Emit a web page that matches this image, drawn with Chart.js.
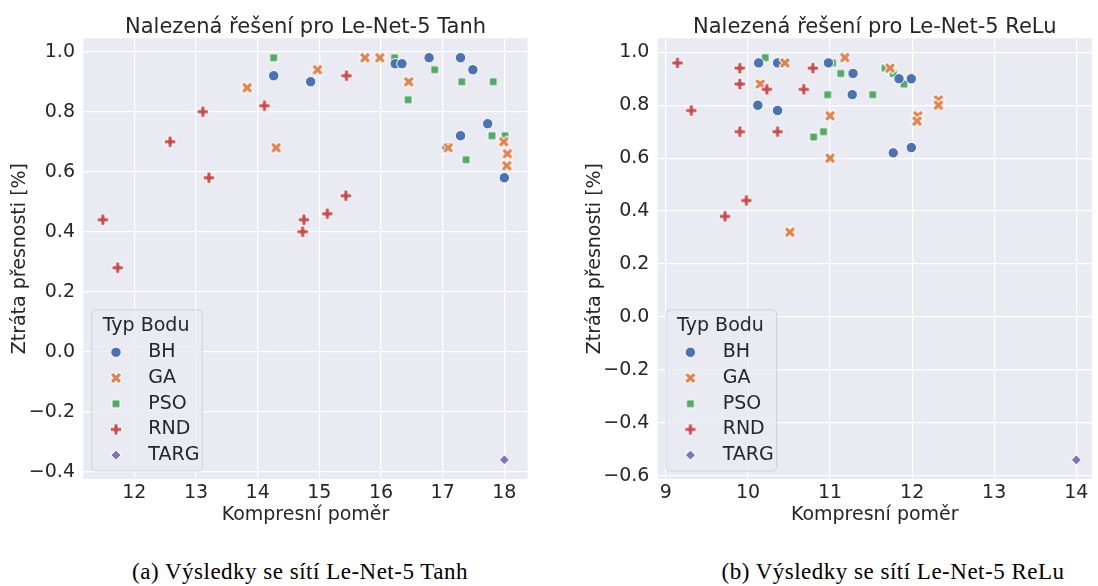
<!DOCTYPE html>
<html><head><meta charset="utf-8">
<script src="https://cdn.jsdelivr.net/npm/chart.js@4/dist/chart.umd.min.js"></script>
<style>
html,body{margin:0;padding:0;background:#fff;}
#wrap{position:relative;width:1098px;height:586px;overflow:hidden;}
canvas{position:absolute;top:0;}
.cap{position:absolute;top:558px;font-family:"Liberation Serif",serif;font-size:23px;letter-spacing:0.5px;color:#000;white-space:nowrap;transform:translateX(-50%);line-height:28px;}
</style></head>
<body><div id="wrap">
<canvas id="c1" width="560" height="540" style="left:0px"></canvas>
<canvas id="c2" width="523" height="540" style="left:575px"></canvas>
<div class="cap" style="left:300px">(a) Výsledky se sítí Le-Net-5 Tanh</div>
<div class="cap" style="left:893px">(b) Výsledky se sítí Le-Net-5 ReLu</div>
</div>
<script>
// ---------- data ----------
const seriesNames = ['BH', 'GA', 'PSO', 'RND', 'TARG'];

const tanhBH  = [[14.26,0.92],[14.86,0.90],[16.23,0.96],[16.34,0.96],[16.78,0.98],[17.29,0.98],[17.49,0.94],[17.73,0.76],[17.29,0.72],[17.07,0.68],[18.00,0.58]];
const tanhGA  = [[13.83,0.88],[14.30,0.68],[14.97,0.94],[15.74,0.98],[15.98,0.98],[16.45,0.90],[17.09,0.68],[17.99,0.70],[18.05,0.66],[18.04,0.62]];
const tanhPSO = [[14.26,0.98],[16.22,0.98],[16.44,0.84],[16.87,0.94],[17.31,0.90],[17.82,0.90],[17.80,0.72],[18.01,0.72],[17.38,0.64]];
const tanhRND = [[11.49,0.44],[11.73,0.28],[12.58,0.70],[13.11,0.80],[13.21,0.58],[14.11,0.82],[14.73,0.40],[14.75,0.44],[15.13,0.46],[15.43,0.52],[15.44,0.92]];
const tanhTARG = [[18.00,-0.36]];

const reluBH  = [[10.13,0.96],[10.12,0.80],[10.36,0.96],[10.36,0.78],[10.98,0.96],[11.28,0.92],[11.27,0.84],[11.84,0.90],[11.99,0.90],[11.77,0.62],[11.99,0.64]];
const reluGA  = [[10.15,0.88],[10.45,0.96],[11.00,0.76],[11.00,0.60],[11.18,0.98],[11.73,0.94],[12.32,0.82],[12.32,0.80],[12.07,0.76],[12.06,0.74],[10.51,0.32]];
const reluPSO = [[10.21,0.98],[10.97,0.84],[10.92,0.70],[10.80,0.68],[11.03,0.96],[11.13,0.92],[11.52,0.84],[11.67,0.94],[11.77,0.92],[11.90,0.88]];
const reluRND = [[9.14,0.96],[9.31,0.78],[9.90,0.94],[9.90,0.88],[9.90,0.70],[10.23,0.86],[10.36,0.70],[10.79,0.94],[10.68,0.86],[9.98,0.44],[9.72,0.38]];
const reluTARG = [[14.00,-0.54]];

const tanhXTicks = [12, 13, 14, 15, 16, 17, 18];
const tanhYTicks = [-0.4, -0.2, 0.0, 0.2, 0.4, 0.6, 0.8, 1.0];
const reluXTicks = [9, 10, 11, 12, 13, 14];
const reluYTicks = [-0.6, -0.4, -0.2, 0.0, 0.2, 0.4, 0.6, 0.8, 1.0];

// ---------- styling ----------
const FONT = '"DejaVu Sans", sans-serif';
const FS = 19;
const TXT = '#262626';
const COLORS = {BH:'#4C72B0', GA:'#DD8452', PSO:'#55A868', RND:'#C44E52', TARG:'#8172B3'};
const SHAPES = {BH:'circle', GA:'x', PSO:'square', RND:'plus', TARG:'diamond'};
const ORDER = {BH:3, GA:2, PSO:4, RND:1, TARG:0};

function makeMarker(shape, color){
  const s = 22, c = document.createElement('canvas');
  c.width = s; c.height = s;
  const g = c.getContext('2d');
  g.translate(s/2, s/2);
  g.beginPath();
  if (shape === 'plus' || shape === 'x'){
    const L = shape === 'x' ? 6.1 : 5.8, w = shape === 'x' ? 2.15 : 2.0;
    if (shape === 'x') g.rotate(Math.PI/4);
    const pts = [[-w,-L],[w,-L],[w,-w],[L,-w],[L,w],[w,w],[w,L],[-w,L],[-w,w],[-L,w],[-L,-w],[-w,-w]];
    g.moveTo(pts[0][0], pts[0][1]);
    for (let i = 1; i < pts.length; i++) g.lineTo(pts[i][0], pts[i][1]);
    g.closePath();
  } else if (shape === 'square'){
    const h = 4.0; g.rect(-h, -h, 2*h, 2*h);
  } else if (shape === 'diamond'){
    const h = 5.0; g.moveTo(0,-h); g.lineTo(h,0); g.lineTo(0,h); g.lineTo(-h,0); g.closePath();
  }
  g.fillStyle = color; g.fill();
  g.lineWidth = 1; g.strokeStyle = '#ffffff'; g.lineJoin = 'miter'; g.stroke();
  return c;
}
const MARKERS = {};
seriesNames.forEach(n => { if (SHAPES[n] !== 'circle') MARKERS[n] = makeMarker(SHAPES[n], COLORS[n]); });

function fmtY(v){
  if (Math.abs(v) < 1e-9) return '0.0';
  const s = Math.abs(v).toFixed(1);
  return v < 0 ? '\u2212' + s : s;
}

const bgPlugin = {
  id: 'bg',
  beforeDraw(chart){
    const a = chart.chartArea, ctx = chart.ctx;
    ctx.save(); ctx.fillStyle = '#EAEAF2';
    ctx.fillRect(a.left, a.top, a.right - a.left, a.bottom - a.top);
    ctx.restore();
  }
};

const titlePlugin = {
  id: 'axtitle',
  afterDraw(chart){
    const a = chart.chartArea, ctx = chart.ctx;
    ctx.save();
    ctx.fillStyle = TXT; ctx.font = '21px ' + FONT;
    ctx.textAlign = 'center'; ctx.textBaseline = 'alphabetic';
    ctx.fillText(chart.options.plugins.axtitle.text, (a.left + a.right) / 2, 33.3);
    ctx.restore();
  }
};

const legendPlugin = {
  id: 'inlegend',
  afterDatasetsDraw(chart){
    const a = chart.chartArea, ctx = chart.ctx;
    const bw = 110.5, bh = 161;
    const bx = a.left + 8.4, by = a.bottom - 8 - bh;
    ctx.save();
    const r = 4;
    ctx.beginPath();
    ctx.moveTo(bx + r, by);
    ctx.lineTo(bx + bw - r, by); ctx.arcTo(bx + bw, by, bx + bw, by + r, r);
    ctx.lineTo(bx + bw, by + bh - r); ctx.arcTo(bx + bw, by + bh, bx + bw - r, by + bh, r);
    ctx.lineTo(bx + r, by + bh); ctx.arcTo(bx, by + bh, bx, by + bh - r, r);
    ctx.lineTo(bx, by + r); ctx.arcTo(bx, by, bx + r, by, r);
    ctx.closePath();
    ctx.fillStyle = 'rgba(234,234,242,0.8)'; ctx.fill();
    ctx.lineWidth = 1; ctx.strokeStyle = 'rgba(204,204,204,0.8)'; ctx.stroke();
    ctx.fillStyle = TXT; ctx.textBaseline = 'middle'; ctx.textAlign = 'left';
    ctx.font = FS + 'px ' + FONT;
    ctx.fillText('Typ Bodu', bx + 11, by + 16);
    seriesNames.forEach((n, i) => {
      const y = by + 42.3 + i * 25.7, mx = bx + 24.3;
      if (SHAPES[n] === 'circle'){
        ctx.beginPath(); ctx.arc(mx, y, 5.2, 0, Math.PI*2);
        ctx.fillStyle = COLORS[n]; ctx.fill();
        ctx.lineWidth = 1; ctx.strokeStyle = '#fff'; ctx.stroke();
      } else {
        const m = MARKERS[n];
        ctx.drawImage(m, mx - m.width/2, y - m.height/2);
      }
      ctx.fillStyle = TXT;
      ctx.fillText(n, bx + 56.6, y);
    });
    ctx.restore();
  }
};

function makeDatasets(groups){
  return seriesNames.map((n, i) => ({
    label: n,
    data: groups[i].map(p => ({x: p[0], y: p[1]})),
    order: ORDER[n],
    backgroundColor: COLORS[n],
    borderColor: '#ffffff',
    borderWidth: 1,
    pointStyle: SHAPES[n] === 'circle' ? 'circle' : MARKERS[n],
    pointRadius: 5.2,
    pointHoverRadius: 5.2
  }));
}

function build(id, groups, title, xMin, xMax, yMin, yMax, xTicks, yTicks, yAxisW, padRight){
  const font = {family: FONT, size: FS, weight: 'normal'};
  return new Chart(document.getElementById(id), {
    type: 'scatter',
    data: {datasets: makeDatasets(groups)},
    plugins: [bgPlugin, legendPlugin, titlePlugin],
    options: {
      responsive: false, animation: false, events: [],
      layout: {padding: {left: 0, right: padRight, top: 38.3, bottom: 0}},
      plugins: {
        legend: {display: false}, tooltip: {enabled: false}, title: {display: false},
        axtitle: {text: title}
      },
      scales: {
        x: {
          type: 'linear', min: xMin, max: xMax,
          afterBuildTicks: s => { s.ticks = xTicks.map(v => ({value: v})); },
          afterFit: s => { s.height = 61; },
          grid: {color: '#ffffff', lineWidth: 1.2, drawTicks: false},
          border: {display: false},
          ticks: {padding: 3, color: TXT, font: font, autoSkip: false, maxRotation: 0, callback: v => String(v)},
          title: {display: true, text: 'Kompresní poměr', color: TXT, font: font, padding: {top: 0, bottom: 13.5}}
        },
        y: {
          type: 'linear', min: yMin, max: yMax,
          afterBuildTicks: s => { s.ticks = yTicks.map(v => ({value: v})); },
          afterFit: s => { s.width = yAxisW; },
          grid: {color: '#ffffff', lineWidth: 1.2, drawTicks: false},
          border: {display: false},
          ticks: {padding: 8.3, color: TXT, font: font, autoSkip: false, callback: v => fmtY(v)},
          title: {display: true, text: 'Ztráta přesnosti [%]', color: TXT, font: font, padding: {top: 8.3, bottom: 0}}
        }
      }
    }
  });
}

build('c1', [tanhBH, tanhGA, tanhPSO, tanhRND, tanhTARG], 'Nalezená řešení pro Le-Net-5 Tanh',
      11.173, 18.379, -0.4243, 1.0447, tanhXTicks, tanhYTicks, 83.3, 32.3);
build('c2', [reluBH, reluGA, reluPSO, reluRND, reluTARG], 'Nalezená řešení pro Le-Net-5 ReLu',
      8.900, 14.189, -0.6125, 1.0529, reluXTicks, reluYTicks, 82.7, 0);
</script>
</body></html>
